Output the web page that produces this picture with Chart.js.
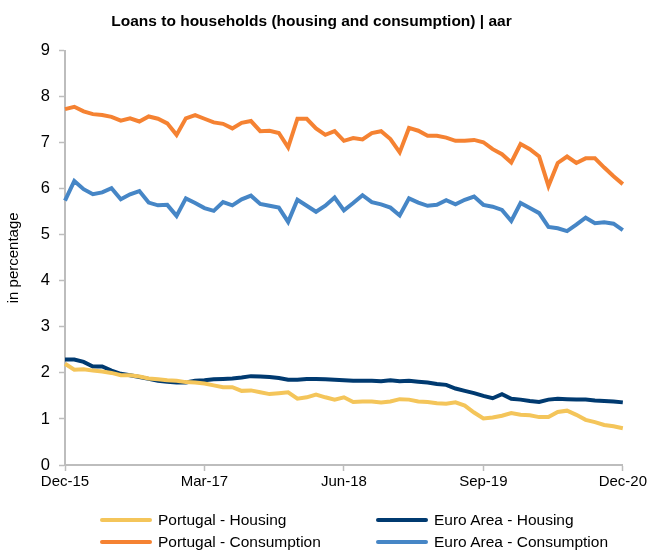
<!DOCTYPE html>
<html>
<head>
<meta charset="utf-8">
<script src="https://cdn.jsdelivr.net/npm/chart.js@4.4.1/dist/chart.umd.min.js"></script>
<style>
    html, body { margin: 0; padding: 0; background: #fff; }
    #wrap { position: relative; width: 649px; height: 550px; overflow: hidden; }
    #legend { position: absolute; left: 0; top: 0; width: 649px; height: 550px; pointer-events: none;
              font-family: 'Liberation Sans', Arial, sans-serif; font-size: 15.5px; color: #000; }
    .item { position: absolute; height: 20px; line-height: 20px; white-space: nowrap; }
    .item .swatch { position: absolute; left: 0; top: 8px; width: 52px; height: 4px; border-radius: 2px; }
    .item .txt { position: absolute; left: 58px; top: 0; }
</style>
</head>
<body>
<div id="wrap">
    <canvas id="chart" width="649" height="550"></canvas>
    <div id="legend"></div>
</div>
<script>
// Monthly observations, Dec-15 .. Dec-20
const months = [
    'Dec-15','Jan-16','Feb-16','Mar-16','Apr-16','May-16','Jun-16','Jul-16','Aug-16','Sep-16','Oct-16','Nov-16','Dec-16',
    'Jan-17','Feb-17','Mar-17','Apr-17','May-17','Jun-17','Jul-17','Aug-17','Sep-17','Oct-17','Nov-17','Dec-17',
    'Jan-18','Feb-18','Mar-18','Apr-18','May-18','Jun-18','Jul-18','Aug-18','Sep-18','Oct-18','Nov-18','Dec-18',
    'Jan-19','Feb-19','Mar-19','Apr-19','May-19','Jun-19','Jul-19','Aug-19','Sep-19','Oct-19','Nov-19','Dec-19',
    'Jan-20','Feb-20','Mar-20','Apr-20','May-20','Jun-20','Jul-20','Aug-20','Sep-20','Oct-20','Nov-20','Dec-20'
];

const ptHousing = [
    2.20, 2.07, 2.08, 2.05, 2.03, 2.00, 1.95, 1.95, 1.92, 1.88, 1.86, 1.84, 1.83, 1.80, 1.79, 1.77, 1.73, 1.69, 1.69, 1.61, 1.62, 1.58,
    1.54, 1.56, 1.58, 1.44, 1.47, 1.53, 1.47, 1.42, 1.47, 1.37, 1.38, 1.38, 1.36, 1.38, 1.43, 1.42, 1.38, 1.37, 1.34,
    1.33, 1.36, 1.29, 1.14, 1.01, 1.03, 1.07, 1.13, 1.09, 1.08, 1.04, 1.04, 1.15, 1.18, 1.09, 0.98, 0.93, 0.87, 0.84, 0.80
];

const eaHousing = [
    2.29, 2.29, 2.24, 2.14, 2.14, 2.05, 1.98, 1.95, 1.91, 1.87, 1.83, 1.81, 1.79, 1.79, 1.83, 1.84, 1.86, 1.87, 1.88, 1.90, 1.93, 1.92,
    1.91, 1.89, 1.85, 1.85, 1.87, 1.87, 1.86, 1.85, 1.84, 1.83, 1.83, 1.83, 1.82, 1.84, 1.82, 1.83, 1.81, 1.79, 1.76,
    1.74, 1.66, 1.61, 1.56, 1.50, 1.45, 1.54, 1.44, 1.42, 1.39, 1.37, 1.42, 1.44, 1.43, 1.42, 1.42, 1.40, 1.39, 1.38, 1.36
];

const ptConsumption = [
    7.73, 7.78, 7.68, 7.62, 7.60, 7.56, 7.48, 7.53, 7.46, 7.57, 7.52, 7.42, 7.17, 7.53, 7.60, 7.52, 7.44, 7.41, 7.31, 7.43, 7.47, 7.25,
    7.26, 7.21, 6.90, 7.52, 7.52, 7.31, 7.17, 7.25, 7.04, 7.10, 7.07, 7.21, 7.25, 7.08, 6.79, 7.32, 7.26, 7.15, 7.15,
    7.11, 7.04, 7.04, 7.06, 7.01, 6.86, 6.75, 6.57, 6.97, 6.86, 6.70, 6.06, 6.56, 6.70, 6.56, 6.66, 6.66, 6.46, 6.27, 6.10
];

const eaConsumption = [
    5.74, 6.17, 5.99, 5.88, 5.92, 6.01, 5.77, 5.88, 5.95, 5.70, 5.64, 5.65, 5.41, 5.79, 5.69, 5.58, 5.52, 5.71, 5.64, 5.77, 5.85, 5.67,
    5.63, 5.59, 5.28, 5.76, 5.63, 5.50, 5.63, 5.81, 5.53, 5.69, 5.86, 5.71, 5.66, 5.59, 5.42, 5.79, 5.70, 5.63, 5.65,
    5.75, 5.66, 5.76, 5.83, 5.65, 5.61, 5.54, 5.30, 5.69, 5.58, 5.47, 5.17, 5.14, 5.08, 5.22, 5.37, 5.25, 5.27, 5.24, 5.10
];

const seriesNames = ['Portugal - Housing', 'Euro Area - Housing', 'Portugal - Consumption', 'Euro Area - Consumption'];
const seriesColors = ['#F4C55A', '#003A70', '#F58232', '#4686C6'];

const FONT = "'Liberation Sans', Arial, sans-serif";
Chart.defaults.font.family = FONT;
Chart.defaults.color = '#000';

function lineSet(i, data) {
    return {
        label: seriesNames[i],
        data: data,
        borderColor: seriesColors[i],
        backgroundColor: seriesColors[i],
        borderWidth: 4,
        pointRadius: 0,
        tension: 0,
        fill: false
    };
}

const chart = new Chart(document.getElementById('chart').getContext('2d'), {
    type: 'line',
    data: {
        labels: months,
        datasets: [
            lineSet(0, ptHousing),
            lineSet(1, eaHousing),
            lineSet(2, ptConsumption),
            lineSet(3, eaConsumption)
        ]
    },
    options: {
        responsive: false,
        animation: false,
        layout: { padding: { left: 0, right: 26, top: 0, bottom: 55 } },
        plugins: {
            legend: { display: false },
            tooltip: { enabled: false },
            title: {
                display: true,
                text: 'Loans to households (housing and consumption) | aar',
                font: { family: FONT, size: 15.5, weight: 'bold' },
                color: '#000',
                padding: { top: 12, bottom: 20 }
            }
        },
        scales: {
            x: {
                offset: false,
                border: { color: '#BDBDBD', width: 2 },
                grid: { drawOnChartArea: false, drawTicks: true, tickLength: 6, tickColor: '#BDBDBD', tickWidth: 1.5 },
                ticks: {
                    autoSkip: false,
                    maxRotation: 0,
                    padding: 2,
                    font: { size: 15 },
                    callback: function (v, i) {
                        return i % 15 === 0 ? this.getLabelForValue(v) : null;
                    }
                },
                afterFit: (s) => { s.height = 30; }
            },
            y: {
                min: 0,
                max: 9,
                border: { color: '#BDBDBD', width: 2 },
                grid: { drawOnChartArea: false, drawTicks: true, tickLength: 6, tickColor: '#BDBDBD', tickWidth: 1.5 },
                ticks: { stepSize: 1, padding: 9, font: { size: 16.5 } },
                title: {
                    display: true,
                    text: 'in percentage',
                    font: { size: 15 },
                    padding: { top: 5, bottom: 0 }
                },
                afterFit: (s) => { s.width = 65; }
            }
        }
    }
});

// Legend in two columns below the plot
const legendBox = document.getElementById('legend');
const legendPos = [[100, 510], [376, 510], [100, 532], [376, 532]];
seriesNames.forEach((name, i) => {
    const el = document.createElement('div');
    el.className = 'item';
    el.style.left = legendPos[i][0] + 'px';
    el.style.top = legendPos[i][1] + 'px';
    el.innerHTML = `<span class="swatch" style="background:${seriesColors[i]}"></span><span class="txt">${name}</span>`;
    legendBox.appendChild(el);
});
</script>
</body>
</html>
